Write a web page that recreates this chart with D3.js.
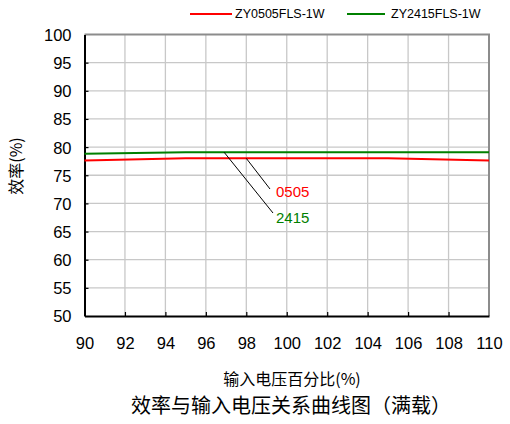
<!DOCTYPE html>
<html>
<head>
<meta charset="utf-8">
<script src="https://cdn.jsdelivr.net/npm/d3@7"></script>
<style>
  body { margin: 0; background: #fff; }
  text { font-family: "Liberation Sans", Arial, sans-serif; }
  .cjk { font-family: "Noto Sans CJK SC", sans-serif; }
</style>
</head>
<body>
<div id="chart"></div>
<script>
// 数据
var xValues = [90, 95, 100, 105, 110]; // 输入电压百分比
var red0505 = [77.6, 78.0, 78.0, 78.0, 77.6];
var green2415 = [78.8, 79.1, 79.1, 79.1, 79.1];
var seriesNames = ['ZY0505FLS-1W', 'ZY2415FLS-1W'];
var seriesLabels = ['0505', '2415'];
var xTicks = [90, 92, 94, 96, 98, 100, 102, 104, 106, 108, 110];
var yTicks = [50, 55, 60, 65, 70, 75, 80, 85, 90, 95, 100];

(function () {
  'use strict';

  var width = 510, height = 424;
  var plotLeft = 84.5, plotRight = 489, plotTop = 34.5, plotBottom = 316;
  var colors = ['#ff0000', '#008000'];

  var svg = d3.select('#chart').append('svg')
    .attr('width', width)
    .attr('height', height);

  var x = d3.scaleLinear().domain([90, 110]).range([plotLeft, plotRight]);
  var y = d3.scaleLinear().domain([50, 100]).range([plotBottom, plotTop]);

  // 网格线
  svg.append('g').selectAll('line')
    .data(xTicks.slice(1, -1))
    .enter().append('line')
    .attr('x1', function (d) { return x(d); })
    .attr('x2', function (d) { return x(d); })
    .attr('y1', plotTop).attr('y2', plotBottom)
    .attr('stroke', '#c8c8c8').attr('stroke-width', 1.3);
  svg.append('g').selectAll('line')
    .data(yTicks.slice(1, -1))
    .enter().append('line')
    .attr('x1', plotLeft).attr('x2', plotRight)
    .attr('y1', function (d) { return y(d); })
    .attr('y2', function (d) { return y(d); })
    .attr('stroke', '#c8c8c8').attr('stroke-width', 1.3);

  // 上边框和右边框
  svg.append('path')
    .attr('d', 'M' + plotLeft + ',' + y(100) + 'H' + plotRight + 'V' + plotBottom)
    .attr('fill', 'none').attr('stroke', '#8c8c8c').attr('stroke-width', 2);

  // 坐标轴
  var xAxis = d3.axisBottom(x).tickValues(xTicks).tickSizeInner(-4).tickSizeOuter(0).tickPadding(21);
  var yAxis = d3.axisLeft(y).tickValues(yTicks).tickSizeInner(-4).tickSizeOuter(0).tickPadding(13);

  var gx = svg.append('g').attr('transform', 'translate(0,' + plotBottom + ')').call(xAxis);
  var gy = svg.append('g').attr('transform', 'translate(' + plotLeft + ',0)').call(yAxis);
  [gx, gy].forEach(function (g) {
    g.select('.domain').attr('stroke', '#000').attr('stroke-width', 2);
    g.selectAll('.tick line').attr('stroke', '#000').attr('stroke-width', 1.2);
    g.selectAll('.tick text')
      .attr('fill', '#000')
      .style('font-family', '"Liberation Sans", Arial, sans-serif')
      .style('font-size', '16.5px');
  });
  gy.selectAll('.tick line').filter(function (d) { return d === 50 || d === 100; }).remove();
  gx.selectAll('.tick line').filter(function (d) { return d === 90 || d === 110; }).remove();
  gy.selectAll('.tick text').attr('dy', '0.36em');

  // 曲线
  var line = d3.line()
    .x(function (d, i) { return x(xValues[i]); })
    .y(function (d) { return y(d); });
  [red0505, green2415].forEach(function (s, i) {
    svg.append('path')
      .datum(s)
      .attr('d', line)
      .attr('fill', 'none')
      .attr('stroke', colors[i])
      .attr('stroke-width', 2);
  });

  // 标注
  var notes = [
    { xs: 98, series: red0505, lx: 270, ly: 189, tx: 276, ty: 197 },
    { xs: 96.9, series: green2415, lx: 273, ly: 213, tx: 276, ty: 223 }
  ];
  notes.forEach(function (n, i) {
    svg.append('line')
      .attr('x1', x(n.xs)).attr('y1', y(n.series[2]))
      .attr('x2', n.lx).attr('y2', n.ly)
      .attr('stroke', '#000').attr('stroke-width', 1);
    svg.append('text')
      .attr('x', n.tx).attr('y', n.ty)
      .attr('fill', colors[i])
      .style('font-size', '15px')
      .text(seriesLabels[i]);
  });

  // 图例
  var legendX = [190, 347];
  seriesNames.forEach(function (name, i) {
    var g = svg.append('g').attr('transform', 'translate(' + legendX[i] + ',14)');
    g.append('line').attr('x1', 0).attr('x2', i === 0 ? 42 : 38)
      .attr('stroke', colors[i]).attr('stroke-width', 2);
    g.append('text').attr('x', i === 0 ? 45 : 44).attr('dy', '0.35em')
      .style('font-size', '12.5px').attr('fill', '#000')
      .text(name);
  });

  // 轴标题
  svg.append('text')
    .attr('class', 'cjk')
    .attr('transform', 'translate(22,166) rotate(-90)')
    .attr('text-anchor', 'middle')
    .style('font-size', '16px')
    .text('效率(%)');
  svg.append('text')
    .attr('class', 'cjk')
    .attr('x', 292).attr('y', 385)
    .attr('text-anchor', 'middle')
    .style('font-size', '16px')
    .text('输入电压百分比(%)');
  svg.append('text')
    .attr('class', 'cjk')
    .attr('x', 291).attr('y', 413)
    .attr('text-anchor', 'middle')
    .style('font-size', '20px')
    .text('效率与输入电压关系曲线图（满载）');
})();
</script>
</body>
</html>
